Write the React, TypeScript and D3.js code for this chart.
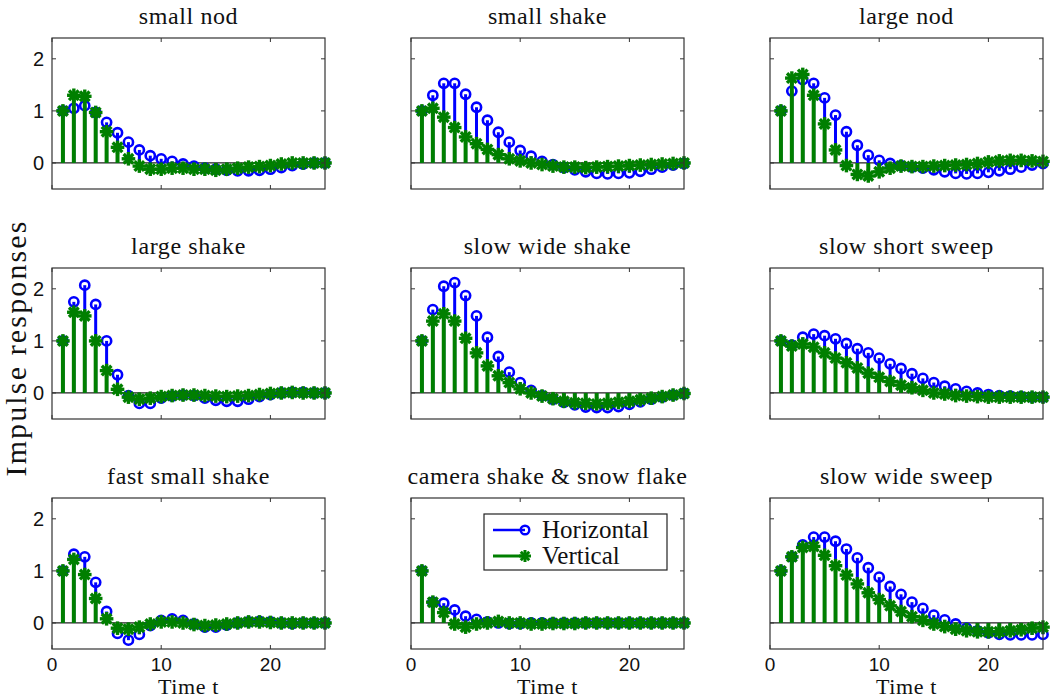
import React from "react";
import * as d3 from "d3";

const titles = [
  "small nod", "small shake", "large nod",
  "large shake", "slow wide shake", "slow short sweep",
  "fast small shake", "camera shake & snow flake", "slow wide sweep",
];

// Horizontal impulse responses (t = 1..25)
const horizontal: number[][] = [
  [1.0, 1.05, 1.1, 0.97, 0.78, 0.58, 0.4, 0.25, 0.14, 0.08, 0.03, -0.02, -0.06, -0.1, -0.12, -0.14, -0.15, -0.15, -0.14, -0.12, -0.09, -0.05, -0.02, 0.0, 0.0],
  [1.0, 1.3, 1.53, 1.53, 1.32, 1.07, 0.82, 0.59, 0.4, 0.24, 0.13, 0.03, -0.03, -0.09, -0.13, -0.17, -0.2, -0.21, -0.2, -0.19, -0.16, -0.12, -0.08, -0.04, -0.01],
  [1.0, 1.38, 1.6, 1.53, 1.25, 0.92, 0.6, 0.34, 0.15, 0.05, -0.01, -0.05, -0.08, -0.1, -0.13, -0.17, -0.2, -0.21, -0.2, -0.18, -0.15, -0.12, -0.08, -0.04, -0.01],
  [1.0, 1.75, 2.07, 1.7, 1.0, 0.35, -0.05, -0.2, -0.2, -0.1, -0.06, -0.04, -0.05, -0.1, -0.14, -0.16, -0.16, -0.12, -0.07, -0.03, 0.0, 0.01, 0.01, 0.0, 0.0],
  [1.0, 1.6, 2.05, 2.12, 1.87, 1.48, 1.07, 0.7, 0.4, 0.2, 0.05, -0.05, -0.12, -0.18, -0.23, -0.27, -0.28, -0.28, -0.26, -0.22, -0.17, -0.12, -0.08, -0.04, -0.01],
  [1.0, 0.92, 1.07, 1.13, 1.1, 1.04, 0.95, 0.85, 0.77, 0.67, 0.56, 0.47, 0.37, 0.28, 0.2, 0.13, 0.08, 0.03, 0.0, -0.03, -0.05, -0.06, -0.07, -0.08, -0.08],
  [1.0, 1.32, 1.27, 0.78, 0.22, -0.2, -0.33, -0.22, -0.05, 0.05, 0.08, 0.05, -0.02, -0.08, -0.08, -0.04, 0.0, 0.02, 0.03, 0.02, 0.0, -0.01, 0.0, 0.0, 0.0],
  [1.0, 0.4, 0.38, 0.25, 0.13, 0.07, 0.02, 0.0, -0.01, -0.01, 0.0, 0.0, 0.0, 0.0, 0.0, 0.0, 0.0, 0.0, 0.0, 0.0, 0.0, 0.0, 0.0, 0.0, 0.0],
  [1.0, 1.27, 1.5, 1.65, 1.65, 1.57, 1.42, 1.25, 1.06, 0.88, 0.7, 0.55, 0.4, 0.28, 0.15, 0.06, -0.02, -0.1, -0.15, -0.19, -0.22, -0.23, -0.23, -0.23, -0.22],
];

// Vertical impulse responses (t = 1..25)
const vertical: number[][] = [
  [1.0, 1.3, 1.28, 0.97, 0.6, 0.3, 0.08, -0.06, -0.12, -0.12, -0.1, -0.1, -0.12, -0.12, -0.14, -0.12, -0.1, -0.08, -0.07, -0.05, -0.02, 0.0, 0.0, 0.0, 0.0],
  [1.0, 1.05, 0.88, 0.68, 0.5, 0.37, 0.26, 0.16, 0.08, 0.04, 0.0, -0.03, -0.06, -0.08, -0.08, -0.09, -0.08, -0.07, -0.06, -0.05, -0.04, -0.03, -0.02, -0.01, 0.0],
  [1.0, 1.63, 1.7, 1.3, 0.75, 0.25, -0.05, -0.22, -0.25, -0.17, -0.1, -0.06, -0.07, -0.07, -0.06, -0.05, -0.04, -0.03, -0.01, 0.02, 0.04, 0.05, 0.05, 0.04, 0.03],
  [1.0, 1.55, 1.48, 1.0, 0.43, 0.07, -0.08, -0.12, -0.1, -0.07, -0.05, -0.04, -0.04, -0.05, -0.06, -0.07, -0.06, -0.05, -0.03, -0.01, 0.0, 0.01, 0.0, 0.0, 0.0],
  [1.0, 1.38, 1.52, 1.38, 1.05, 0.77, 0.52, 0.33, 0.2, 0.08, 0.0, -0.06, -0.11, -0.16, -0.19, -0.2, -0.21, -0.2, -0.18, -0.16, -0.13, -0.1, -0.07, -0.04, -0.01],
  [1.0, 0.9, 0.94, 0.88, 0.77, 0.67, 0.58, 0.48, 0.38, 0.3, 0.22, 0.15, 0.1, 0.05, 0.0, -0.02, -0.05, -0.06, -0.07, -0.08, -0.08, -0.08, -0.08, -0.08, -0.08],
  [1.0, 1.22, 0.93, 0.47, 0.08, -0.1, -0.12, -0.08, -0.02, 0.02, 0.02, 0.0, -0.03, -0.05, -0.04, -0.02, 0.0, 0.02, 0.02, 0.01, 0.0, 0.0, 0.0, 0.0, 0.0],
  [1.0, 0.4, 0.2, -0.02, -0.08, -0.02, 0.0, 0.03, 0.0, 0.0, -0.02, -0.02, -0.01, -0.01, -0.01, 0.0, 0.0, 0.0, 0.0, 0.0, 0.0, 0.0, 0.0, 0.0, 0.0],
  [1.0, 1.27, 1.45, 1.47, 1.3, 1.1, 0.92, 0.75, 0.58, 0.45, 0.33, 0.22, 0.12, 0.05, -0.02, -0.07, -0.12, -0.15, -0.17, -0.17, -0.17, -0.15, -0.13, -0.1, -0.08],
];

const timeSteps = d3.range(1, 26);
const yTicks = [0, 1, 2];
const xTicks = [0, 10, 20];
const seriesNames = ["Horizontal", "Vertical"];

const BLUE = "#0000ff";
const GREEN = "#007f00";
const SERIF = "'Liberation Serif', 'Times New Roman', serif";
const SANS = "'Liberation Sans', Arial, sans-serif";

const colLeft = [52, 411, 770];
const rowTop = [38, 268, 498];
const PW = 273;
const PH = 151;

function Asterisk({ cx, cy, r, color, sw }: { cx: number; cy: number; r: number; color: string; sw: number }) {
  const d = r * Math.SQRT1_2;
  return (
    <g stroke={color} strokeWidth={sw} strokeLinecap="butt">
      <line x1={cx - r} y1={cy} x2={cx + r} y2={cy} />
      <line x1={cx} y1={cy - r} x2={cx} y2={cy + r} />
      <line x1={cx - d} y1={cy - d} x2={cx + d} y2={cy + d} />
      <line x1={cx - d} y1={cy + d} x2={cx + d} y2={cy - d} />
    </g>
  );
}

function Panel({ idx }: { idx: number }) {
  const col = idx % 3;
  const row = Math.floor(idx / 3);
  const left = colLeft[col];
  const top = rowTop[row];
  const x = d3.scaleLinear().domain([0, 25]).range([left, left + PW]);
  const y = d3.scaleLinear().domain([-0.5, 2.4]).range([top + PH, top]);
  const h = horizontal[idx];
  const v = vertical[idx];
  const cx = left + PW / 2;
  return (
    <g>
      <text x={cx} y={top - 14} textAnchor="middle" fontFamily={SERIF} fontSize={24} letterSpacing={0.6} fill="#111">
        {titles[idx]}
      </text>
      <line x1={x(0)} x2={x(25)} y1={y(0)} y2={y(0)} stroke="#222" strokeWidth={1.2} />
      {timeSteps.map((t, i) => (
        <line key={"hs" + i} x1={x(t)} x2={x(t)} y1={y(0)} y2={y(h[i])} stroke={BLUE} strokeWidth={3} />
      ))}
      {timeSteps.map((t, i) => (
        <circle key={"hc" + i} cx={x(t)} cy={y(h[i])} r={4.6} fill="none" stroke={BLUE} strokeWidth={2.6} />
      ))}
      {timeSteps.map((t, i) => (
        <line key={"vs" + i} x1={x(t)} x2={x(t)} y1={y(0)} y2={y(v[i])} stroke={GREEN} strokeWidth={4} />
      ))}
      {timeSteps.map((t, i) => (
        <Asterisk key={"va" + i} cx={x(t)} cy={y(v[i])} r={6.8} color={GREEN} sw={3.4} />
      ))}
      <rect x={left} y={top} width={PW} height={PH} fill="none" stroke="#333" strokeWidth={1.2} />
      {yTicks.map((t) => (
        <g key={"yt" + t}>
          <line x1={left} x2={left + 4} y1={y(t)} y2={y(t)} stroke="#333" strokeWidth={1} />
          <line x1={left + PW} x2={left + PW - 4} y1={y(t)} y2={y(t)} stroke="#333" strokeWidth={1} />
          {col === 0 && (
            <text x={left - 8} y={y(t)} dy="0.36em" textAnchor="end" fontFamily={SANS} fontSize={20} fill="#111">
              {t}
            </text>
          )}
        </g>
      ))}
      {xTicks.map((t) => (
        <g key={"xt" + t}>
          <line x1={x(t)} x2={x(t)} y1={top} y2={top + 4} stroke="#333" strokeWidth={1} />
          <line x1={x(t)} x2={x(t)} y1={top + PH} y2={top + PH - 4} stroke="#333" strokeWidth={1} />
          {row === 2 && (
            <text x={x(t)} y={671} textAnchor="middle" fontFamily={SANS} fontSize={19} fill="#111">
              {t}
            </text>
          )}
        </g>
      ))}
      {row === 2 && (
        <text x={cx} y={694} textAnchor="middle" fontFamily={SERIF} fontSize={22} letterSpacing={0.6} fill="#111">
          Time t
        </text>
      )}
    </g>
  );
}

function Legend() {
  const lx = 484, ly = 514, lw = 183, lh = 56;
  return (
    <g>
      <rect x={lx} y={ly} width={lw} height={lh} fill="#fff" stroke="#222" strokeWidth={1.2} />
      <line x1={493} x2={525} y1={530} y2={530} stroke={BLUE} strokeWidth={2.5} />
      <circle cx={525} cy={530} r={4.3} fill="none" stroke={BLUE} strokeWidth={2.4} />
      <text x={542} y={538} fontFamily={SERIF} fontSize={25} fill="#111">{seriesNames[0]}</text>
      <line x1={493} x2={525} y1={556} y2={556} stroke={GREEN} strokeWidth={3} />
      <Asterisk cx={525} cy={556} r={6} color={GREEN} sw={3} />
      <text x={542} y={564} fontFamily={SERIF} fontSize={25} fill="#111">{seriesNames[1]}</text>
    </g>
  );
}

export default function App() {
  return (
    <svg width={1050} height={700} style={{ position: "absolute", left: 0, top: 0, background: "#fff" }}>
      <rect width={1050} height={700} fill="#fff" />
      {titles.map((_, i) => (
        <Panel key={i} idx={i} />
      ))}
      <Legend />
      <text
        transform="translate(26,349) rotate(-90)"
        textAnchor="middle"
        fontFamily={SERIF}
        fontSize={30}
        fill="#111"
        textLength={255}
        lengthAdjust="spacing"
      >
        Impulse responses
      </text>
    </svg>
  );
}
